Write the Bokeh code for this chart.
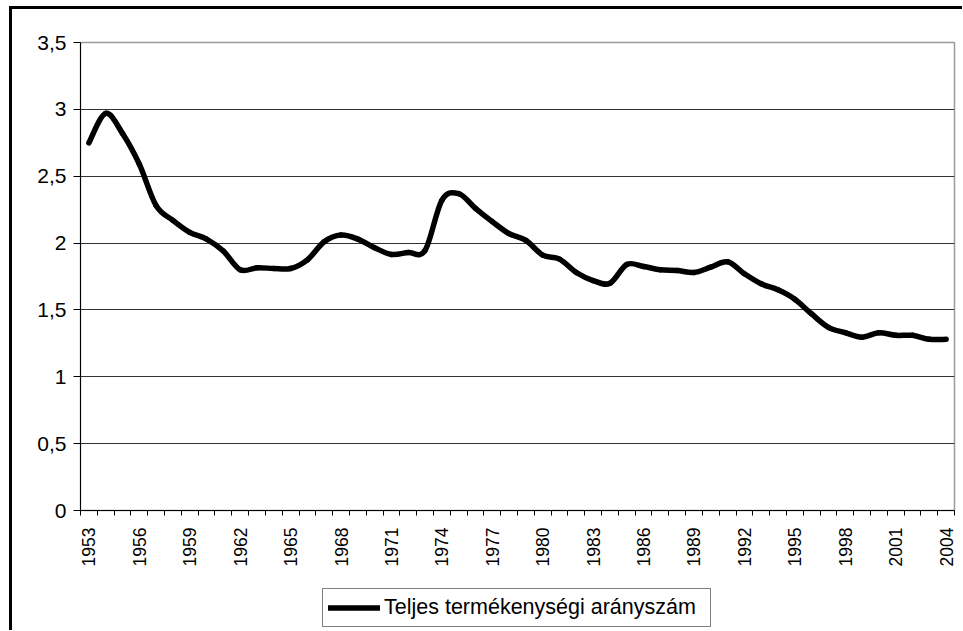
import math
from bokeh.plotting import figure
from bokeh.layouts import column
from bokeh.models import (Range1d, FixedTicker, CustomJSTickFormatter, Legend, LegendItem)
from bokeh.embed import file_html
from bokeh.resources import INLINE

years = list(range(1953, 2005))
tfr = [2.75, 2.97, 2.82, 2.59, 2.28, 2.17, 2.08, 2.03, 1.94, 1.80,
       1.815, 1.81, 1.81, 1.875, 2.01, 2.06, 2.03, 1.965, 1.915, 1.93,
       1.945, 2.32, 2.37, 2.26, 2.16, 2.07, 2.02, 1.91, 1.88, 1.78,
       1.72, 1.70, 1.84, 1.825, 1.80, 1.795, 1.78, 1.82, 1.86, 1.77,
       1.695, 1.65, 1.58, 1.47, 1.37, 1.33, 1.296, 1.33, 1.31, 1.31,
       1.28, 1.28]
label_years = list(range(1953, 2005, 3))
y_ticks = [0, 0.5, 1, 1.5, 2, 2.5, 3, 3.5]
series_name = "Teljes termékenységi arányszám"

p = figure(width=950, height=571, output_backend="svg", toolbar_location=None,
           x_range=Range1d(1952.5, 2004.5), y_range=Range1d(0, 3.5),
           min_border_left=68, min_border_top=33, min_border_right=8,
           min_border_bottom=70)
p.background_fill_color = "white"
p.border_fill_color = "white"
p.outline_line_color = "#9a9a9a"
p.outline_line_width = 1.5

# smoothed line (Excel-style smoothing) drawn as Bezier segments through the data
n = len(years)
x0, y0, x1, y1, cx0, cy0, cx1, cy1 = [], [], [], [], [], [], [], []
for i in range(n - 1):
    xp = years[i - 1] if i > 0 else years[i]
    yp = tfr[i - 1] if i > 0 else tfr[i]
    xn = years[i + 2] if i + 2 < n else years[i + 1]
    yn = tfr[i + 2] if i + 2 < n else tfr[i + 1]
    x0.append(years[i]); y0.append(tfr[i])
    x1.append(years[i + 1]); y1.append(tfr[i + 1])
    cx0.append(years[i] + (years[i + 1] - xp) / 6.0)
    cy0.append(tfr[i] + (tfr[i + 1] - yp) / 6.0)
    cx1.append(years[i + 1] - (xn - years[i]) / 6.0)
    cy1.append(tfr[i + 1] - (yn - tfr[i]) / 6.0)
p.bezier(x0=x0, y0=y0, x1=x1, y1=y1, cx0=cx0, cy0=cy0, cx1=cx1, cy1=cy1,
         line_width=5.5, line_color="black", line_cap="round")

# y axis
p.yaxis.ticker = FixedTicker(ticks=y_ticks)
p.yaxis.formatter = CustomJSTickFormatter(code="return tick.toString().replace('.', ',');")
p.yaxis.major_tick_out = 7
p.yaxis.major_tick_in = 0
p.yaxis.minor_tick_out = 0
p.yaxis.minor_tick_in = 0
p.yaxis.major_label_standoff = 7
p.yaxis.major_label_text_font = "Liberation Sans"
p.yaxis.major_label_text_font_size = "21px"
p.yaxis.major_label_text_color = "black"
p.yaxis.axis_line_color = "black"
p.yaxis.major_tick_line_color = "black"

# x axis
bounds = [y - 0.5 for y in years] + [years[-1] + 0.5]
p.xaxis.ticker = FixedTicker(ticks=label_years, minor_ticks=bounds)
p.xaxis.major_tick_out = 0
p.xaxis.major_tick_in = 0
p.xaxis.minor_tick_out = 5
p.xaxis.minor_tick_in = 0
p.xaxis.minor_tick_line_color = "black"
p.xaxis.major_label_orientation = math.pi / 2
p.xaxis.major_label_standoff = 12
p.xaxis.major_label_text_font = "Liberation Sans"
p.xaxis.major_label_text_font_size = "17.5px"
p.xaxis.major_label_text_color = "black"
p.xaxis.axis_line_color = "black"

p.xgrid.grid_line_color = None
p.ygrid.ticker = FixedTicker(ticks=y_ticks)
p.ygrid.grid_line_color = "#333333"
p.ygrid.grid_line_width = 1

# legend strip under the chart
pl = figure(width=950, height=50, output_backend="svg", toolbar_location=None,
            x_range=Range1d(0, 1), y_range=Range1d(0, 1),
            min_border_left=0, min_border_right=0, min_border_top=0, min_border_bottom=0)
pl.axis.visible = False
pl.grid.visible = False
pl.outline_line_color = None
pl.background_fill_color = "white"
pl.border_fill_color = "white"
r = pl.line(years, tfr, line_width=5.5, line_color="black", line_cap="round")

legend = Legend(items=[LegendItem(label=series_name, renderers=[r])],
                location=(242, 3))
legend.glyph_width = 52
legend.glyph_height = 27
legend.label_height = 27
legend.label_width = 321
legend.padding = 5
legend.label_standoff = 4
legend.label_text_font = "Liberation Sans"
legend.label_text_font_size = "21.5px"
legend.label_text_color = "black"
legend.border_line_color = "black"
legend.border_line_width = 1
legend.background_fill_color = "white"
legend.background_fill_alpha = 1
legend.margin = 0
pl.add_layout(legend, "center")

layout = column(p, pl, spacing=0,
                styles={"margin-left": "9px", "margin-top": "6px",
                        "border-left": "3px solid #000000",
                        "border-top": "3px solid #000000"})

open("out.html", "w").write(file_html(layout, INLINE))
